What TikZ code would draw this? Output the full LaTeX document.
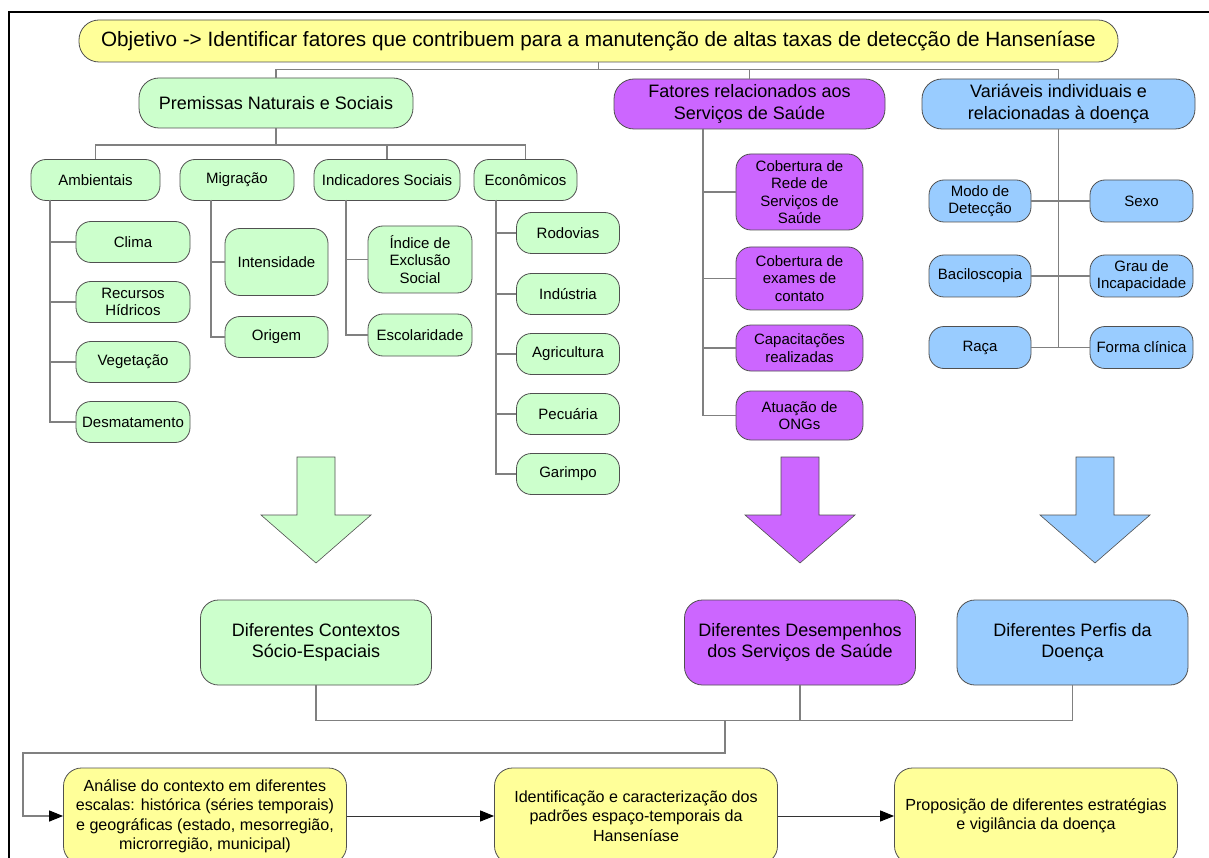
\documentclass[tikz,border=0pt]{standalone}
\usepackage{fontspec}
\setmainfont{Liberation Sans}
\usetikzlibrary{arrows.meta}
\definecolor{vgreen}{HTML}{CCFFCC}
\definecolor{vpurple}{HTML}{CC66FF}
\definecolor{vblue}{HTML}{99CCFF}
\definecolor{vyellow}{HTML}{FFFF99}
\definecolor{edge}{HTML}{505050}
\definecolor{wire}{HTML}{808080}

\begin{document}
\begin{tikzpicture}[x=1pt,y=1pt,yscale=-1,xscale=1,
  base/.style={draw=edge,line width=0.8pt,rounded corners=15pt,align=center,inner sep=1pt,font=\fontsize{15}{17.5}\selectfont},
  gbox/.style={base,fill=vgreen,minimum height=41pt},
  pbox/.style={base,fill=vpurple},
  bbox/.style={base,fill=vblue,minimum height=42pt},
  head/.style={base,rounded corners=20pt,minimum height=50pt,font=\fontsize{18}{21.5}\selectfont},
  mid/.style={base,rounded corners=18pt,minimum width=231pt,minimum height=85pt,font=\fontsize{18}{21.5}\selectfont},
  ybox/.style={base,fill=vyellow,rounded corners=18pt,minimum width=283pt,minimum height=96pt,font=\fontsize{16.1}{19.5}\selectfont},
  conn/.style={draw=wire,line width=1.2pt},
  flow/.style={draw=black!80,line width=1pt,-{Triangle[length=14pt,width=11pt,color=black]}}]
\useasboundingbox (0,0) rectangle (1209,858);
\clip (0,0) rectangle (1209,858);
\fill[white] (0,0) rectangle (1209,858);
\draw[line width=2.4pt] (1209,12) -- (9,12) -- (9,858);

\node[base,fill=vyellow,rounded corners=20pt,minimum width=1039pt,minimum height=42pt,font=\fontsize{20.7}{23}\selectfont] (obj) at (598.5,41) {Objetivo -> Identificar fatores que contribuem para a manutenção de altas taxas de detecção de Hanseníase};

\node[head,fill=vgreen,minimum width=274pt] (prem) at (276,103) {Premissas Naturais e Sociais};
\node[head,fill=vpurple,minimum width=271pt] (fat) at (749.5,104) {Fatores relacionados aos\\Serviços de Saúde};
\node[head,fill=vblue,minimum width=273pt] (var) at (1058.5,104) {Variáveis individuais e\\relacionadas à doença};

\node[gbox,minimum width=129pt] (amb) at (95.5,180) {Ambientais};
\node[gbox,minimum width=114pt] (mig) at (237,180) {Migração};
\node[gbox,minimum width=146pt] (ind) at (387,180) {Indicadores Sociais};
\node[gbox,minimum width=103pt] (eco) at (525.5,180) {Econômicos};

\node[gbox,minimum width=114pt] (clima) at (133,242) {Clima};
\node[gbox,minimum width=114pt] (recursos) at (133,302) {Recursos\\Hídricos};
\node[gbox,minimum width=114pt] (veget) at (133,362) {Vegetação};
\node[gbox,minimum width=114pt] (desmat) at (133,422) {Desmatamento};

\node[gbox,minimum width=103pt,minimum height=67pt] (intens) at (276.5,262) {Intensidade};
\node[gbox,minimum width=103pt] (origem) at (276.5,337) {Origem};

\node[gbox,minimum width=104pt,minimum height=67pt] (indice) at (420,259.5) {Índice de\\Exclusão\\Social};
\node[gbox,minimum width=104pt,minimum height=42pt] (escol) at (420,335) {Escolaridade};

\node[gbox,minimum width=103pt] (rodov) at (568,233) {Rodovias};
\node[gbox,minimum width=103pt] (indust) at (568,294) {Indústria};
\node[gbox,minimum width=103pt] (agric) at (568,354) {Agricultura};
\node[gbox,minimum width=103pt] (pecuar) at (568,414) {Pecuária};
\node[gbox,minimum width=103pt] (garimpo) at (568,474) {Garimpo};

\node[pbox,minimum width=127pt,minimum height=76pt] (cobrede) at (799.5,192) {Cobertura de\\Rede de\\Serviços de\\Saúde};
\node[pbox,minimum width=127pt,minimum height=63pt] (cobexam) at (799.5,278.5) {Cobertura de\\exames de\\contato};
\node[pbox,minimum width=127pt,minimum height=46pt] (capac) at (799.5,348) {Capacitações\\realizadas};
\node[pbox,minimum width=127pt,minimum height=49pt] (atuac) at (799.5,415.5) {Atuação de\\ONGs};

\node[bbox,minimum width=102pt] (modo) at (980,201) {Modo de\\Detecção};
\node[bbox,minimum width=103pt] (sexo) at (1141.5,201) {Sexo};
\node[bbox,minimum width=102pt] (bacil) at (980,276) {Baciloscopia};
\node[bbox,minimum width=103pt] (grau) at (1141.5,276) {Grau de\\Incapacidade};
\node[bbox,minimum width=102pt] (raca) at (980,347.5) {Raça};
\node[bbox,minimum width=103pt] (forma) at (1141.5,347.5) {Forma clínica};

\node[mid,fill=vgreen] (ctx) at (316,642.5) {Diferentes Contextos\\Sócio-Espaciais};
\node[mid,fill=vpurple] (desemp) at (800,642.5) {Diferentes Desempenhos\\dos Serviços de Saúde};
\node[mid,fill=vblue] (perf) at (1072.5,642.5) {Diferentes Perfis da\\Doença};

\node[ybox] (analise) at (205,816) {Análise do contexto em diferentes\\escalas: histórica (séries temporais)\\e geográficas (estado, mesorregião,\\microrregião, municipal)};
\node[ybox] (ident) at (636,816) {Identificação e caracterização dos\\padrões espaço-temporais da\\Hanseníase};
\node[ybox] (propos) at (1036,816) {Proposição de diferentes estratégias\\e vigilância da doença};

\draw[conn] (obj.south) -- ++(0,8);
\draw[conn] (prem.north) -- ++(0,-8) -| (var.north);
\draw[conn] (fat.north) -- ++(0,-9);

\draw[conn] (prem.south) -- ++(0,17);
\draw[conn] (amb.north) -- ++(0,-14) -| (eco.north);
\draw[conn] (ind.north) -- ++(0,-14);

\coordinate (ambbus) at (50,200);
\coordinate (migbus) at (211,200);
\coordinate (indbus) at (346,200);
\coordinate (ecobus) at (496,200);
\coordinate (fatbus) at (703,129);
\foreach \c in {clima,recursos,veget,desmat} \draw[conn] (ambbus) |- (\c.west);
\foreach \c in {intens,origem} \draw[conn] (migbus) |- (\c.west);
\foreach \c in {indice,escol} \draw[conn] (indbus) |- (\c.west);
\foreach \c in {rodov,indust,agric,pecuar,garimpo} \draw[conn] (ecobus) |- (\c.west);
\foreach \c in {cobrede,cobexam,capac,atuac} \draw[conn] (fatbus) |- (\c.west);

\draw[conn] (var.south) -- (var.south |- raca.east);
\draw[conn] (modo.east) -- (sexo.west);
\draw[conn] (bacil.east) -- (grau.west);
\draw[conn] (raca.east) -- (forma.west);

\foreach \ax/\col in {316/vgreen,800/vpurple,1095/vblue}
  \draw[draw=edge,line width=0.6pt,fill=\col] ({\ax-19},457) -- ({\ax+19},457) -- ({\ax+19},515) -- ({\ax+55},515) -- (\ax,563) -- ({\ax-55},515) -- ({\ax-19},515) -- cycle;

\draw[conn] (ctx.south) -- ++(0,35) -| (perf.south);
\draw[conn] (desemp.south) -- ++(0,35);
\coordinate (junc) at (725,720);
\coordinate (turn) at (23,753);
\draw[conn,-{Triangle[length=14pt,width=11pt,color=black]}] (junc) |- (turn) |- (analise.west);
\draw[flow] (analise) -- (ident);
\draw[flow] (ident) -- (propos);
\end{tikzpicture}
\end{document}
